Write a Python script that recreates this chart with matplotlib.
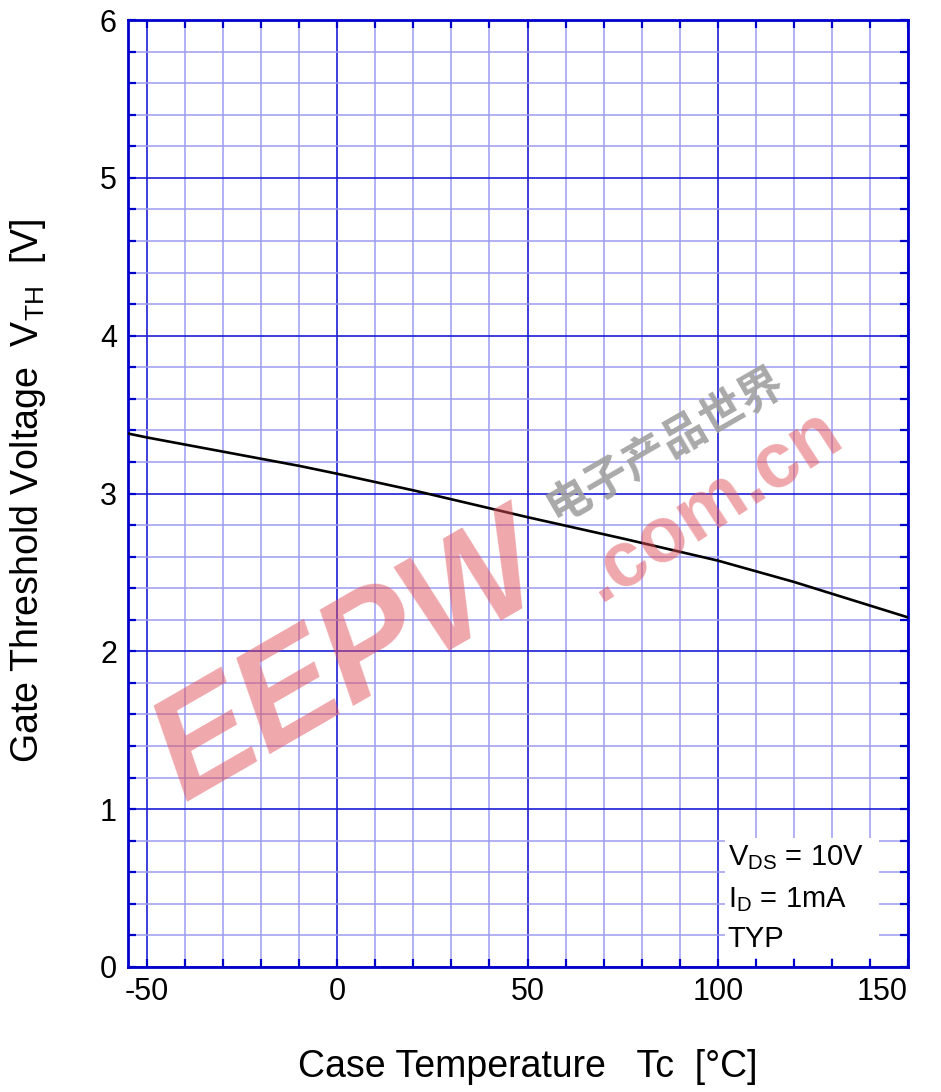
import matplotlib
matplotlib.use("Agg")
import matplotlib.pyplot as plt
from matplotlib.patches import Rectangle
from matplotlib.ticker import MultipleLocator

# values
temp = [-55, -50, -30, -10, 0, 20, 50, 75, 100, 120, 140, 150]
vth = [3.38, 3.355, 3.265, 3.175, 3.125, 3.02, 2.85, 2.715, 2.575, 2.44, 2.29, 2.215]

x_ticks = [-50, 0, 50, 100, 150]
y_ticks = [0, 1, 2, 3, 4, 5, 6]
cond_lines = [r"V$_{\mathrm{DS}}$ = 10V", r"I$_{\mathrm{D}}$ = 1mA", "TYP"]

plt.rcParams['font.family'] = ['Liberation Sans', 'DejaVu Sans']
plt.rcParams['mathtext.fontset'] = 'custom'
plt.rcParams['mathtext.rm'] = 'Liberation Sans'
plt.rcParams['mathtext.it'] = 'Liberation Sans:italic'
plt.rcParams['axes.unicode_minus'] = False

spine_col = '#0000cc'
major_col = '#1c1cd6'
minor_col = '#9c9cf0'

fig = plt.figure(figsize=(9.41, 10.92), dpi=100)
ax = fig.add_axes([128/941, 1-967/1092, 780/941, 947/1092])

ax.set_xlim(-55, 150)
ax.set_ylim(0, 6)
ax.set_xticks(x_ticks)
ax.set_yticks(y_ticks)
ax.xaxis.set_minor_locator(MultipleLocator(10))
ax.yaxis.set_minor_locator(MultipleLocator(0.2))

ax.set_axisbelow(True)
ax.grid(which='major', color=major_col, linewidth=1.2)
ax.grid(which='minor', color=minor_col, linewidth=1.1)

for s in ax.spines.values():
    s.set_color(spine_col)
    s.set_linewidth(2.0)

ax.tick_params(which='both', direction='in', top=True, right=True,
               color=spine_col, width=1.6, labelsize=22)
ax.tick_params(which='major', length=6)
ax.tick_params(which='minor', length=6)
ax.tick_params(axis='x', pad=7)
ax.tick_params(axis='y', pad=8)

# the 150 label sits left of its tick in the original
ax.get_xticklabels()[-1].set_horizontalalignment('right')

ax.plot(temp, vth, color='black', linewidth=1.9, zorder=3)

# white box behind the test conditions
ax.add_patch(Rectangle((102, 0.06), 40.5, 0.76, facecolor='white',
                       edgecolor='none', zorder=1))
ax.text(102.6, 0.646, cond_lines[0], fontsize=21, va='baseline', zorder=4)
ax.text(102.6, 0.38, cond_lines[1], fontsize=21, va='baseline', zorder=4)
ax.text(102.6, 0.127, cond_lines[2], fontsize=21, va='baseline', zorder=4)

fig.text(528/941, 1-1077/1092, "Case Temperature   Tc  [°C]",
         fontsize=27, ha='center', va='baseline')
fig.text(28/941, 1-491/1092, r"Gate Threshold Voltage  V$_{\mathrm{TH}}$  [V]",
         fontsize=27, rotation=90, ha='center', va='center')

# watermark
fig.text(350/941, 1-663/1092, "EEPW", fontsize=104, fontweight='bold',
         style='italic', color='#e0505a', alpha=0.5, rotation=30,
         ha='center', va='center', rotation_mode='anchor')
fig.text(712/941, 1-505/1092, ".com.cn", fontsize=56, fontweight='bold',
         color='#e0505a', alpha=0.5, rotation=33,
         ha='center', va='center', rotation_mode='anchor')
fig.text(665/941, 1-445/1092, "电子产品世界", fontsize=32, fontweight='bold',
         family=['Noto Sans CJK SC', 'DejaVu Sans'], color='#a0a0a0',
         alpha=0.9, rotation=30, ha='center', va='center',
         rotation_mode='anchor')

fig.savefig('out.png', dpi=100)
